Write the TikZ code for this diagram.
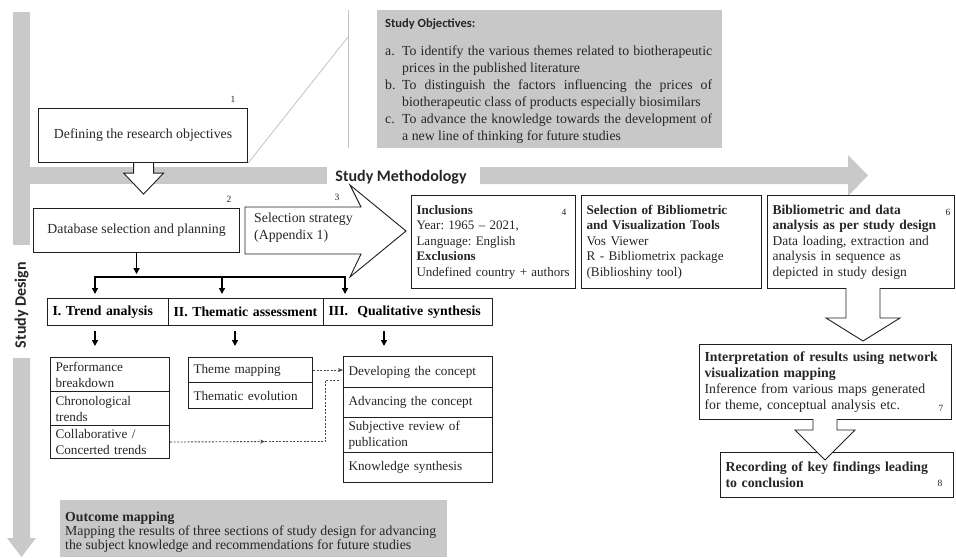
\documentclass[tikz,border=0pt]{standalone}
\usepackage{fontspec}
\setmainfont{Liberation Serif}
\newfontfamily\calib{Carlito}
\usetikzlibrary{arrows.meta,calc}
\frenchspacing

\definecolor{bargray}{HTML}{C9C9C9}
\definecolor{panelgray}{HTML}{C8C8C8}
\definecolor{edge}{HTML}{1F1F1F}
\definecolor{ink}{HTML}{262626}
\definecolor{guide}{HTML}{C2C2C2}
\definecolor{dashink}{HTML}{4A4A4A}

\newcommand\bodytext{\fontsize{13.8}{16}\selectfont}
\newcommand\listtext{\fontsize{13.2}{16}\selectfont}
\newcommand\tagtext{\fontsize{9.5}{10}\selectfont}

\begin{document}
\begin{tikzpicture}[x=1pt,y=-1pt,
  box/.style={draw=edge, line width=1.1pt, fill=white, inner xsep=5pt, inner ysep=2pt,
              align=left, font=\bodytext, text=ink},
  listbox/.style={box, font=\listtext},
  cbox/.style={draw=edge, line width=1.1pt, fill=white, inner sep=0pt, font=\bodytext, text=ink},
  hdr/.style={box, font=\bodytext\bfseries, text=black},
  tag/.style={font=\tagtext, text=ink, inner sep=0pt},
  blockarrow/.style={draw=edge, line width=0.9pt, fill=white, line join=miter},
  forkline/.style={line width=1.7pt, draw=black},
  forkarrow/.style={line width=1.7pt, draw=black, -{Triangle[length=6pt,width=6pt]}},
  dotlink/.style={draw=dashink, line width=0.9pt, dash pattern=on 2pt off 1.5pt},
  sanshead/.style={font=\calib\bfseries, text=ink, inner sep=0pt},
]
\useasboundingbox (0,0) rectangle (956,557);

% ---------- grey guide bars ----------
\fill[bargray] (13,12) rectangle (30,245);
\node[sanshead, rotate=90, font=\calib\bfseries\fontsize{16}{16}\selectfont] (design) at (21.5,305) {Study Design};
\fill[bargray] (13,358) -- (30,358) -- (30,538) -- (36,538) -- (21.5,557) -- (7,538) -- (13,538) -- cycle;

\fill[bargray] (30,167) rectangle (327,184);
\node[sanshead, font=\calib\bfseries\fontsize{16}{16}\selectfont] (method) at (401,177) {Study Methodology};
\fill[bargray] (480,167) -- (848,167) -- (848,155) -- (868,175.5) -- (848,196) -- (848,184) -- (480,184) -- cycle;

% ---------- study objectives panel ----------
\node[fill=panelgray, anchor=north west, minimum width=345, minimum height=138, inner sep=0pt] (objpanel) at (377,10) {};
\node[sanshead, anchor=west, font=\calib\bfseries\fontsize{12.5}{13}\selectfont] (objhead) at (385,24) {Study Objectives:};
\node[anchor=north west, inner sep=0pt, text width=327pt, align=justify,
      font=\fontsize{13.8}{17}\selectfont, text=ink] (objlist) at (385,46) {%
\hangindent=17pt\hangafter=1\noindent\makebox[17pt][l]{a.}To identify the various themes related to biotherapeutic\linebreak prices in the published literature\par
\hangindent=17pt\hangafter=1\noindent\makebox[17pt][l]{b.}To distinguish the factors influencing the prices of\linebreak biotherapeutic class of products especially biosimilars\par
\hangindent=17pt\hangafter=1\noindent\makebox[17pt][l]{c.}To advance the knowledge towards the development of\linebreak a new line of thinking for future studies\par};

% ---------- step 1 ----------
\node[cbox, anchor=north west, minimum width=209, minimum height=54] (def) at (38,108) {Defining the research objectives};
\node[tag] (n1) at (233,99) {1};
\coordinate (objfoot) at (348,37);
\draw[guide, line width=0.8pt] (348,10) -- (348,148);
\draw[guide, line width=0.8pt] (def.south east) -- (objfoot);
\draw[blockarrow] ($(def.south)+(-9.5,0)$) -- ++(0,10) -- ++(-10,0) -- ($(def.south)+(0.5,31)$)
   -- ($(def.south)+(20.5,10)$) -- ++(-10,0) -- ++(0,-10);

% ---------- step 2 ----------
\node[cbox, anchor=north west, minimum width=206, minimum height=44] (db) at (33,208) {Database selection and planning};
\node[tag] (n2) at (229,199) {2};

% ---------- step 3 : selection strategy arrow ----------
\draw[blockarrow] (245,207) -- (361,207) -- (350,185) -- (406,231) -- (350,277) -- (361,254) -- (245,254) -- cycle;
\node[anchor=west, inner sep=0pt, align=left, font=\fontsize{13.8}{17}\selectfont, text=ink] (sel) at (254,228) {Selection strategy\\(Appendix 1)};
\node[tag] (n3) at (337,197) {3};

% ---------- steps 4 - 6 ----------
\node[box, font=\fontsize{13}{15.5}\selectfont, anchor=north west, inner xsep=5pt, text width=154, minimum height=93] (incl) at (411,195)
  {\textbf{Inclusions}\\Year: 1965 – 2021,\\Language: English\\\textbf{Exclusions}\\Undefined country + authors};
\node[tag] (n4) at (564,212) {4};
\node[box, font=\fontsize{13.2}{15.5}\selectfont, anchor=north west, text width=170, minimum height=93] (tools) at (581,195)
  {\textbf{Selection of Bibliometric}\\\textbf{and Visualization Tools}\\Vos Viewer\\R - Bibliometrix package\\(Biblioshiny tool)};
\node[box, font=\fontsize{13.5}{15.5}\selectfont, anchor=north west, text width=177, minimum height=93] (anal) at (767,195)
  {\textbf{Bibliometric and data}\\\textbf{analysis as per study design}\\Data loading, extraction and\\analysis in sequence as\\depicted in study design};
\node[tag] (n6) at (948,212) {6};

% ---------- steps 7 - 8 ----------
\node[box, anchor=north west, text width=242, minimum height=75] (interp) at (699,344)
  {\textbf{Interpretation of results using network}\\\textbf{visualization mapping}\\Inference from various maps generated\\for theme, conceptual analysis etc.};
\node[tag] (n7) at (941,408) {7};
\node[box, anchor=north west, text width=223, minimum height=45] (rec) at (720,452)
  {\textbf{Recording of key findings leading}\\\textbf{to conclusion}};
\node[tag] (n8) at (940,483) {8};

\draw[blockarrow] (846,288) -- (846,318) -- (826,318) -- (863,341) -- (900,318) -- (880,318) -- (880,288);
\draw[blockarrow] (813,419) -- (813,430) -- (795,430) -- (825,460) -- (855,430) -- (837,430) -- (837,419);

% ---------- fork into the three sections ----------
\coordinate (fkL) at (95,277);
\coordinate (fkM) at (222,277);
\coordinate (fkR) at (345,277);
\draw[forkarrow] (db.south) -- ($(db.south)+(0,21)$);
\draw[forkline, line cap=rect] (fkL) -- (fkR);
\foreach \c in {fkL,fkM,fkR} \draw[forkarrow] (\c) -- ++(0,17);

% ---------- section headers ----------
\node[hdr, anchor=north west, text width=111, minimum height=27] (h1) at (47,298) {I. Trend analysis};
\node[hdr, anchor=north west, text width=145, minimum height=27] (h2) at (168,298) {II. Thematic assessment};
\node[hdr, anchor=north west, text width=159, minimum height=27] (h3) at (323,298) {III.\ \ Qualitative synthesis};

\coordinate (d1) at (95,331);
\coordinate (d2) at (235,331);
\coordinate (d3) at (384,331);
\foreach \c in {d1,d2,d3} \draw[forkarrow] (\c) -- ++(0,15);

% ---------- trend analysis list ----------
\node[listbox, anchor=north west, text width=109, minimum height=34] (tr1) at (50,357) {Performance\\breakdown};
\node[listbox, anchor=north west, text width=109, minimum height=34] (tr2) at (50,391) {Chronological\\trends};
\node[listbox, anchor=north west, text width=109, minimum height=33] (tr3) at (50,425) {Collaborative /\\Concerted trends};

% ---------- thematic list ----------
\node[listbox, anchor=north west, text width=114, minimum height=25] (tm) at (188,357) {Theme mapping};
\node[listbox, anchor=north west, text width=114, minimum height=26] (te) at (188,382) {Thematic evolution};

% ---------- qualitative list ----------
\node[listbox, anchor=north west, text width=139, minimum height=31] (dev) at (343,356) {Developing the concept};
\node[listbox, anchor=north west, text width=139, minimum height=30] (adv) at (343,387) {Advancing the concept};
\node[listbox, anchor=north west, text width=139, minimum height=35] (subj) at (343,417) {Subjective review of\\publication};
\node[listbox, anchor=north west, text width=139, minimum height=30] (know) at (343,452) {Knowledge synthesis};

% ---------- dotted links ----------
\draw[dotlink, -{Stealth[length=5pt,width=4pt]}] (tm.east) -- (tm.east -| dev.west);
\coordinate (cmid) at (265,441.5);
\coordinate (cbend) at (325,441.5);
\coordinate (ctop) at (325,380);
\draw[dotlink, -{Stealth[length=5pt,width=4pt]}] (tr3.east) -- (cmid);
\draw[dotlink] (cmid) -- (cbend) -- (ctop) -- ($(ctop -| dev.west)+(-3,0)$);

% ---------- outcome mapping ----------
\node[fill=panelgray, anchor=north west, minimum width=387, minimum height=57, inner sep=0pt] (outcome) at (60,500) {};
\node[anchor=north west, inner sep=0pt, align=left, font=\fontsize{13.8}{14}\selectfont, text=ink] (outtext) at (65,512)
  {\textbf{Outcome mapping}\\Mapping the results of three sections of study design for advancing\\the subject knowledge and recommendations for future studies};

\end{tikzpicture}
\end{document}
